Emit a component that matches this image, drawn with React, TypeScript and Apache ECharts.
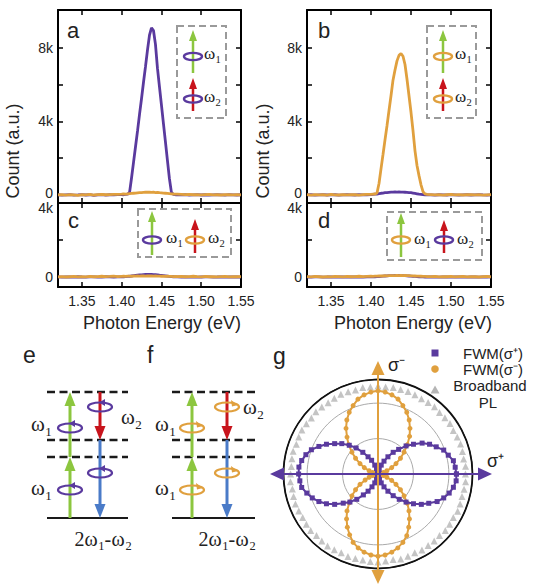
import React, { useEffect, useRef } from 'react';
import * as echarts from 'echarts';

const PURPLE = '#5a3a9e';
const ORANGE = '#e0a03e';
const GREEN = '#8cc63f';
const RED = '#c8141c';
const BLUE = '#4a7bc8';
const SANS = '"Liberation Sans", Arial, Helvetica, sans-serif';
const SERIF = '"Liberation Serif", "Times New Roman", serif';

// Photon energy (eV)
const energy = [
  1.320, 1.325, 1.330, 1.335, 1.340, 1.345, 1.350, 1.355, 1.360, 1.365, 1.370, 1.375, 1.380, 1.385, 1.390, 1.395,
  1.400, 1.4025, 1.405, 1.4075, 1.410, 1.4125, 1.415, 1.4175, 1.420, 1.4225, 1.425, 1.4275, 1.430, 1.4325, 1.435,
  1.4375, 1.440, 1.4425, 1.445, 1.4475, 1.450, 1.4525, 1.455, 1.4575, 1.460, 1.4625, 1.465, 1.4675, 1.470,
  1.475, 1.480, 1.485, 1.490, 1.495, 1.500, 1.505, 1.510, 1.515, 1.520, 1.525, 1.530, 1.535, 1.540, 1.545, 1.550,
];

// panel a
const purpleA = [
  10, -15, 5, 20, -10, 0, 15, -5, 10, -20, 5, 15, -10, 10, 0, 20,
  20, 10, 30, 40, 150, 950, 1800, 2650, 3500, 4400, 5250, 6150, 7000, 7900, 8700,
  9100, 8950, 8200, 6900, 5900, 4900, 3900, 2900, 1900, 900, 150, 30, 10, 20,
  0, 15, -10, 5, 20, -5, 10, -15, 0, 10, 5, -10, 15, 0, -5, 10,
];
const orangeA = [
  0, 20, -10, 15, 5, -20, 10, 0, 25, -5, 15, 30, 10, 20, 35, 30,
  40, 50, 45, 60, 70, 80, 90, 100, 110, 120, 130, 140, 150, 145, 150,
  140, 150, 130, 140, 120, 110, 100, 90, 80, 70, 60, 50, 45, 40,
  30, 20, 35, 10, 20, 0, 15, 25, 5, 10, -5, 20, 10, 0, 15, 5,
];
// panel b
const purpleB = [
  0, 10, -10, 5, 15, -5, 0, 10, -15, 5, 10, 0, -5, 15, 5, 10,
  20, 30, 40, 50, 70, 90, 100, 120, 130, 140, 150, 155, 160, 150, 160,
  155, 150, 145, 140, 130, 120, 100, 80, 60, 40, 30, 20, 10, 0,
  5, -10, 10, 0, -5, 15, 5, -10, 0, 10, -5, 5, 15, 0, -10, 5,
];
const orangeB = [
  15, -10, 20, 0, 10, -15, 25, 5, -5, 15, 0, 20, 10, -10, 15, 25,
  30, 40, 50, 100, 620, 1420, 2200, 3000, 3770, 4600, 5400, 6250, 6800, 7300, 7600,
  7700, 7550, 7100, 6300, 5400, 4500, 3500, 2400, 1600, 1050, 550, 180, 60, 30,
  20, 5, 15, -10, 10, 25, 0, 15, -5, 20, 10, 0, 15, -10, 5, 20,
];
// panel c
const purpleC = [
  5, -10, 0, 10, -5, 15, 0, -10, 5, 10, -5, 0, 15, 5, -10, 10,
  10, 15, 20, 30, 40, 55, 70, 85, 100, 110, 120, 130, 135, 140, 135,
  140, 130, 125, 115, 100, 90, 75, 60, 45, 30, 20, 15, 10, 5,
  0, 10, -5, 5, -10, 0, 10, 5, -5, 0, 10, -10, 5, 0, 10, -5,
];
const orangeC = [
  10, 25, 0, 15, 30, 5, 20, 10, 35, 15, 25, 40, 20, 30, 45, 25,
  35, 40, 30, 45, 50, 40, 55, 45, 60, 50, 55, 60, 50, 65, 55,
  60, 50, 55, 45, 50, 40, 45, 35, 40, 30, 35, 25, 30, 20,
  30, 15, 25, 40, 20, 10, 30, 15, 25, 5, 20, 35, 10, 25, 15, 20,
];
// panel d
const purpleD = [
  0, -10, 5, 10, -5, 0, 10, -10, 5, 0, -5, 10, 0, 5, -10, 5,
  5, 10, 15, 20, 25, 35, 45, 55, 60, 70, 75, 80, 85, 80, 85,
  80, 75, 70, 65, 55, 45, 35, 30, 20, 15, 10, 5, 0, 5,
  0, 5, -5, 10, 0, -10, 5, 0, 10, -5, 0, 5, -10, 5, 0, 10,
];
const orangeD = [
  20, 5, 30, 15, 0, 25, 10, 35, 20, 5, 30, 15, 25, 40, 20, 30,
  40, 35, 50, 45, 55, 60, 55, 70, 65, 75, 70, 80, 75, 85, 80,
  90, 80, 85, 75, 70, 65, 60, 55, 50, 45, 40, 35, 30, 25,
  20, 35, 10, 25, 15, 30, 5, 20, 35, 10, 25, 15, 0, 20, 30, 10,
];

const xTicks = [1.35, 1.40, 1.45, 1.50, 1.55];
const yTicksTop = [0, 2000, 4000, 6000, 8000];
const yLabelsTop = [0, 4000, 8000];
const yTicksBottom = [0, 2000, 4000];
const yLabelsBottom = [0, 4000];

// panel g (polar), angle in degrees, radius normalised to outer circle
const polarAngles = [
  0, 5, 10, 15, 20, 25, 30, 35, 40, 45, 50, 55, 60, 65, 70, 75, 80, 85,
  90, 95, 100, 105, 110, 115, 120, 125, 130, 135, 140, 145, 150, 155, 160, 165, 170, 175,
  180, 185, 190, 195, 200, 205, 210, 215, 220, 225, 230, 235, 240, 245, 250, 255, 260, 265,
  270, 275, 280, 285, 290, 295, 300, 305, 310, 315, 320, 325, 330, 335, 340, 345, 350, 355,
];
const fwmPlus = [
  0.83, 0.82, 0.81, 0.77, 0.74, 0.68, 0.63, 0.57, 0.49, 0.42, 0.34, 0.28, 0.21, 0.15, 0.10, 0.05, 0.03, 0.01,
  0.00, 0.01, 0.03, 0.06, 0.10, 0.16, 0.21, 0.28, 0.36, 0.43, 0.50, 0.56, 0.63, 0.69, 0.75, 0.79, 0.82, 0.84,
  0.84, 0.83, 0.82, 0.78, 0.74, 0.69, 0.63, 0.56, 0.48, 0.42, 0.35, 0.27, 0.21, 0.15, 0.10, 0.06, 0.03, 0.01,
  0.00, 0.01, 0.03, 0.06, 0.10, 0.15, 0.21, 0.28, 0.35, 0.42, 0.49, 0.56, 0.62, 0.69, 0.74, 0.78, 0.81, 0.83,
];
const fwmMinus = [
  0.00, 0.01, 0.03, 0.06, 0.10, 0.16, 0.22, 0.29, 0.36, 0.44, 0.52, 0.59, 0.66, 0.72, 0.77, 0.82, 0.85, 0.87,
  0.88, 0.87, 0.85, 0.82, 0.77, 0.72, 0.66, 0.59, 0.51, 0.44, 0.36, 0.29, 0.22, 0.16, 0.10, 0.06, 0.03, 0.01,
  0.00, 0.01, 0.03, 0.06, 0.10, 0.15, 0.22, 0.29, 0.36, 0.43, 0.51, 0.58, 0.65, 0.71, 0.77, 0.81, 0.84, 0.86,
  0.87, 0.86, 0.84, 0.81, 0.77, 0.72, 0.65, 0.58, 0.51, 0.44, 0.36, 0.29, 0.22, 0.16, 0.10, 0.06, 0.03, 0.01,
];
const broadbandPL = [
  0.925, 0.93, 0.92, 0.925, 0.93, 0.925, 0.92, 0.93, 0.925, 0.92, 0.93, 0.925, 0.92, 0.925, 0.93, 0.925, 0.93, 0.925,
  0.93, 0.925, 0.93, 0.92, 0.925, 0.93, 0.925, 0.92, 0.925, 0.93, 0.92, 0.925, 0.93, 0.925, 0.92, 0.93, 0.925, 0.92,
  0.925, 0.93, 0.92, 0.925, 0.93, 0.925, 0.92, 0.925, 0.93, 0.92, 0.925, 0.93, 0.925, 0.92, 0.93, 0.925, 0.925, 0.93,
  0.93, 0.925, 0.92, 0.93, 0.925, 0.92, 0.93, 0.925, 0.925, 0.92, 0.93, 0.925, 0.92, 0.93, 0.925, 0.92, 0.925, 0.93,
];

// ---------- graphic helpers ----------
const Z = 100;
function txt(x: number, y: number, text: string, size: number, o: any = {}) {
  return {
    type: 'text', x, y, z: Z, rotation: o.rotation || 0,
    style: {
      text, fontSize: size, fontFamily: o.family || SANS, fill: o.color || '#222',
      align: o.align || 'left', verticalAlign: 'middle',
      textAlign: o.align || 'left', textVerticalAlign: 'middle',
    },
  };
}
function arrow(x1: number, y1: number, x2: number, y2: number, color: string, lw: number, hl: number, hw: number) {
  const dx = x2 - x1, dy = y2 - y1;
  const L = Math.hypot(dx, dy);
  const ux = dx / L, uy = dy / L;
  const bx = x2 - ux * hl, by = y2 - uy * hl;
  const px = (-uy * hw) / 2, py = (ux * hw) / 2;
  return [
    { type: 'line', z: Z, shape: { x1, y1, x2: bx + ux, y2: by + uy }, style: { stroke: color, lineWidth: lw } },
    { type: 'polygon', z: Z, shape: { points: [[x2, y2], [bx + px, by + py], [bx - px, by - py]] }, style: { fill: color } },
  ];
}
function ring(cx: number, cy: number, rx: number, ry: number, color: string, lw: number) {
  return { type: 'ellipse', z: Z + 1, shape: { cx, cy, rx, ry }, style: { fill: 'none', stroke: color, lineWidth: lw } };
}
function rotIcon(cx: number, cy: number, color: string, dir: number) {
  const rx = 12, ry = 4.5;
  const els: any[] = [ring(cx, cy, rx, ry, color, 2.2)];
  if (dir < 0) {
    els.push({ type: 'polygon', z: Z + 2, shape: { points: [[cx - 1, cy - ry], [cx + 5, cy - ry - 3.5], [cx + 5, cy - ry + 3.5]] }, style: { fill: color } });
  } else {
    els.push({ type: 'polygon', z: Z + 2, shape: { points: [[cx + rx - 1, cy - ry + 2.5], [cx + rx - 8, cy - ry - 2.5], [cx + rx - 7, cy - ry + 4]] }, style: { fill: color } });
  }
  return els;
}
function omega(x: number, y: number, sub: string, size: number) {
  return [
    txt(x, y, 'ω', size, { family: SERIF }),
    txt(x + size * 0.68, y + size * 0.36, sub, size * 0.62, { family: SERIF }),
  ];
}
function expr(cx: number, y: number, size: number) {
  const ss = size * 0.62;
  const parts: [string, boolean, number][] = [
    ['2', false, 0.5 * size], ['ω', false, 0.69 * size], ['1', true, 0.5 * ss],
    ['-', false, 0.36 * size], ['ω', false, 0.69 * size], ['2', true, 0.5 * ss],
  ];
  const total = parts.reduce((s, p) => s + p[2], 0);
  let x = cx - total / 2;
  const els: any[] = [];
  parts.forEach(([t, sub, w]) => {
    els.push(sub ? txt(x, y + size * 0.36, t, ss, { family: SERIF }) : txt(x, y, t, size, { family: SERIF }));
    x += w;
  });
  return els;
}
function dashRect(x: number, y: number, w: number, h: number) {
  return { type: 'rect', z: Z, shape: { x, y, width: w, height: h }, style: { fill: 'none', stroke: '#9a9a9a', lineWidth: 2, lineDash: [7, 4] } };
}
function levelDiagram(x0: number, x1: number, xg: number, xr: number, icon: string, dir: number) {
  const els: any[] = [];
  [392, 440, 457].forEach((y) =>
    els.push({ type: 'line', z: Z, shape: { x1: x0, y1: y, x2: x1, y2: y }, style: { stroke: '#1a1a1a', lineWidth: 2.5, lineDash: [8, 4.5] } })
  );
  els.push({ type: 'line', z: Z, shape: { x1: x0, y1: 518, x2: x1, y2: 518 }, style: { stroke: '#1a1a1a', lineWidth: 2 } });
  els.push(...arrow(xg, 518, xg, 457, GREEN, 3, 14, 11));
  els.push(...arrow(xg, 457, xg, 392, GREEN, 3, 14, 11));
  els.push(...arrow(xr, 392, xr, 440, RED, 3, 14, 11));
  els.push(...arrow(xr, 440, xr, 518, BLUE, 3, 14, 11));
  els.push(...rotIcon(xg, 428, icon, dir));
  els.push(...rotIcon(xr, 407, icon, dir));
  els.push(...rotIcon(xg, 490, icon, dir));
  els.push(...rotIcon(xr, 473, icon, dir));
  return els;
}

function buildGraphic() {
  const els: any[] = [];
  // panel letters
  els.push(txt(67, 30.5, 'a', 22), txt(318, 30.5, 'b', 22), txt(68, 220.5, 'c', 22), txt(318, 220.5, 'd', 22));
  els.push(txt(23, 355, 'e', 23), txt(147, 355, 'f', 23), txt(273, 356, 'g', 23));
  // axis titles
  els.push(txt(13, 151, 'Count (a.u.)', 18, { align: 'center', rotation: Math.PI / 2 }));
  els.push(txt(263, 151, 'Count (a.u.)', 18, { align: 'center', rotation: Math.PI / 2 }));
  els.push(txt(162, 323, 'Photon Energy (eV)', 18, { align: 'center' }));
  els.push(txt(413, 323, 'Photon Energy (eV)', 18, { align: 'center' }));

  // inset a
  els.push(dashRect(177, 26, 49, 92));
  els.push(...arrow(193, 73, 193, 30, GREEN, 2.5, 11, 8));
  els.push(ring(193, 56.5, 9, 3.6, PURPLE, 2.4));
  els.push(...omega(204, 53, '1', 17));
  els.push(...arrow(193, 111, 193, 78, RED, 2.5, 11, 8));
  els.push(ring(193, 99, 9, 3.6, PURPLE, 2.4));
  els.push(...omega(204, 96, '2', 17));
  // inset b
  els.push(dashRect(427, 26, 49, 92));
  els.push(...arrow(443, 73, 443, 30, GREEN, 2.5, 11, 8));
  els.push(ring(443, 56.5, 9, 3.6, ORANGE, 2.4));
  els.push(...omega(455, 53, '1', 17));
  els.push(...arrow(443, 111, 443, 78, RED, 2.5, 11, 8));
  els.push(ring(443, 99, 9, 3.6, ORANGE, 2.4));
  els.push(...omega(455, 96, '2', 17));
  // inset c
  els.push(dashRect(138, 209, 93, 48));
  els.push(...arrow(152, 255, 152, 211, GREEN, 2.5, 11, 8));
  els.push(ring(152, 240, 9, 3.6, PURPLE, 2.4));
  els.push(...omega(166, 237, '1', 17));
  els.push(...arrow(195, 253, 195, 219, RED, 2.5, 11, 8));
  els.push(ring(195, 240, 9, 3.6, ORANGE, 2.4));
  els.push(...omega(208, 237, '2', 17));
  // inset d
  els.push(dashRect(387, 212, 95, 48));
  els.push(...arrow(401, 257, 401, 213, GREEN, 2.5, 11, 8));
  els.push(ring(401, 240, 9, 3.6, ORANGE, 2.4));
  els.push(...omega(414, 238, '1', 17));
  els.push(...arrow(444, 253, 444, 220, RED, 2.5, 11, 8));
  els.push(ring(444, 240, 9, 3.6, PURPLE, 2.4));
  els.push(...omega(457, 238, '2', 17));

  // panel e
  els.push(...levelDiagram(47, 128, 70, 100, PURPLE, -1));
  els.push(...omega(31, 424, '1', 21), ...omega(121, 417, '2', 21), ...omega(31, 488, '1', 21));
  els.push(...expr(103, 539, 20));
  // panel f
  els.push(...levelDiagram(172, 255, 192, 227, ORANGE, 1));
  els.push(...omega(155, 424, '1', 21), ...omega(243, 407, '2', 21), ...omega(155, 488, '1', 21));
  els.push(...expr(227, 539, 20));

  // panel g axes arrows
  els.push(...arrow(378, 474, 378, 361, ORANGE, 2, 14, 13));
  els.push(...arrow(378, 474, 378, 584, ORANGE, 2, 14, 13));
  els.push(...arrow(378, 474, 270, 474, PURPLE, 2, 14, 13));
  els.push(...arrow(378, 474, 492, 474, PURPLE, 2, 14, 13));
  els.push(txt(388, 365, 'σ⁻', 18), txt(487, 461, 'σ⁺', 18));
  // legend
  els.push({ type: 'rect', z: Z, shape: { x: 431.5, y: 349.5, width: 7, height: 7 }, style: { fill: PURPLE } });
  els.push({ type: 'circle', z: Z, shape: { cx: 435, cy: 369, r: 3.8 }, style: { fill: ORANGE } });
  els.push({ type: 'polygon', z: Z, shape: { points: [[435, 385.5], [430.5, 393.5], [439.5, 393.5]] }, style: { fill: '#b5b5b5' } });
  els.push(txt(493, 353, 'FWM(σ⁺)', 15, { align: 'center' }));
  els.push(txt(493, 369, 'FWM(σ⁻)', 15, { align: 'center' }));
  els.push(txt(490, 385, 'Broadband', 15, { align: 'center' }));
  els.push(txt(488, 402, 'PL', 15, { align: 'center' }));
  return els;
}

const grids = [
  { left: 58, top: 10, width: 183, height: 193 },
  { left: 307, top: 10, width: 184, height: 193 },
  { left: 58, top: 203, width: 183, height: 84 },
  { left: 307, top: 203, width: 184, height: 84 },
];

function buildOption() {
  const axisLine = { show: true, onZero: false, lineStyle: { color: '#000', width: 2 } };
  const tickStyle = { color: '#000', width: 1.5 };
  const labelFont = { fontSize: 14, color: '#222', fontFamily: SANS };
  const xAxis: any[] = [];
  const yAxis: any[] = [];
  grids.forEach((_, i) => {
    ['bottom', 'top'].forEach((pos) => {
      xAxis.push({
        gridIndex: i, type: 'value', min: 1.32, max: 1.55, position: pos,
        axisLine,
        axisTick: { show: true, inside: true, length: 5, lineStyle: tickStyle, customValues: xTicks },
        axisLabel: {
          show: pos === 'bottom' && i >= 2, customValues: xTicks, margin: 7,
          formatter: (v: number) => v.toFixed(2), ...labelFont,
        },
        splitLine: { show: false },
      });
    });
    const top = i < 2;
    ['left', 'right'].forEach((pos) => {
      yAxis.push({
        gridIndex: i, type: 'value', min: top ? -440 : -540, max: top ? 10070 : 4000, position: pos,
        axisLine,
        axisTick: { show: true, inside: true, length: 5, lineStyle: tickStyle, customValues: top ? yTicksTop : yTicksBottom },
        axisLabel: {
          show: pos === 'left', customValues: top ? yLabelsTop : yLabelsBottom, margin: 5,
          formatter: (v: number) => {
            const s = v === 0 ? '0' : `${v / 1000}k`;
            if (top && v === 0) return `{lo|${s}}`;
            if (!top && v === 4000) return `{hi|${s}}`;
            return s;
          },
          ...labelFont,
          rich: {
            lo: { ...labelFont, padding: [0, 0, 4, 0] },
            hi: { ...labelFont, padding: [9, 0, 0, 0] },
          },
        },
        splitLine: { show: false },
      });
    });
  });

  const panels = [
    [purpleA, orangeA], [purpleB, orangeB], [purpleC, orangeC], [purpleD, orangeD],
  ];
  const series: any[] = [];
  panels.forEach(([p, o], i) => {
    [[p, PURPLE], [o, ORANGE]].forEach(([ys, color]: any) => {
      series.push({
        type: 'line', xAxisIndex: 2 * i, yAxisIndex: 2 * i, showSymbol: false, symbol: 'none',
        data: energy.map((e, k) => [e, ys[k]]),
        lineStyle: { color, width: 2.8 }, itemStyle: { color }, z: 3,
      });
    });
  });

  const polarPts = (rs: number[]) => {
    const pts = rs.map((r, k) => [r, polarAngles[k]]);
    pts.push([rs[0], 360]);
    return pts;
  };
  series.push({
    type: 'scatter', coordinateSystem: 'polar', polarIndex: 0, symbol: 'triangle', symbolSize: 7,
    data: broadbandPL.map((r, k) => [r, polarAngles[k]]), itemStyle: { color: '#b5b5b5' }, z: 3,
  });
  series.push({
    type: 'line', coordinateSystem: 'polar', polarIndex: 0, symbol: 'circle', symbolSize: 5, showSymbol: true,
    data: polarPts(fwmMinus), lineStyle: { color: ORANGE, width: 2 }, itemStyle: { color: ORANGE }, z: 4,
  });
  series.push({
    type: 'line', coordinateSystem: 'polar', polarIndex: 0, symbol: 'rect', symbolSize: 5, showSymbol: true,
    data: polarPts(fwmPlus), lineStyle: { color: PURPLE, width: 2 }, itemStyle: { color: PURPLE }, z: 5,
  });

  return {
    animation: false,
    backgroundColor: '#fff',
    grid: grids.map((g) => ({ ...g, containLabel: false })),
    xAxis,
    yAxis,
    polar: { center: [378, 474], radius: 94.5 },
    angleAxis: {
      polarIndex: 0, type: 'value', min: 0, max: 360, startAngle: 0, clockwise: false,
      axisLine: { show: true, lineStyle: { color: '#111', width: 1.8 } },
      axisTick: { show: false }, axisLabel: { show: false }, splitLine: { show: false },
    },
    radiusAxis: {
      polarIndex: 0, type: 'value', min: 0, max: 1, interval: 0.375,
      axisLine: { show: false }, axisTick: { show: false }, axisLabel: { show: false },
      splitLine: { show: true, lineStyle: { color: ['#aaa', '#aaa', '#aaa', '#111'], width: 1 } },
    },
    series,
    graphic: { elements: buildGraphic() },
  };
}

export default function App() {
  const ref = useRef<HTMLDivElement>(null);
  useEffect(() => {
    if (!ref.current) return;
    const chart = echarts.init(ref.current, undefined, { renderer: 'svg' });
    chart.setOption(buildOption() as any);
    return () => chart.dispose();
  }, []);
  return (
    <div
      ref={ref}
      style={{ position: 'absolute', left: 0, top: 0, width: 535, height: 586, background: '#fff' }}
    />
  );
}
